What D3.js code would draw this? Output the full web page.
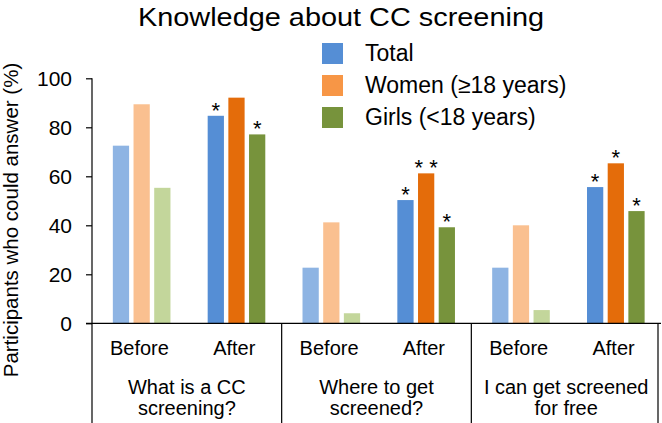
<!DOCTYPE html>
<html><head><meta charset="utf-8">
<script src="https://cdn.jsdelivr.net/npm/d3@7"></script>
<style>body{margin:0;background:#fff}svg{display:block;font-family:"Liberation Sans",Arial,sans-serif}</style>
</head><body>
<svg id="chart" width="662" height="423"></svg>
<script>
const title = "Knowledge about CC screening";
const yTitle = "Participants who could answer (%)";
const categories = ["What is a CC screening?", "Where to get screened?", "I can get screened for free"];
const categoryLines = [["What is a CC", "screening?"], ["Where to get", "screened?"], ["I can get screened", "for free"]];
const phases = ["Before", "After"];
const seriesNames = ["Total", "Women (\u226518 years)", "Girls (<18 years)"];
const yTicks = [0, 20, 40, 60, 80, 100];

const totalBefore = [72.5, 22.7, 22.7];
const totalAfter = [84.7, 50.3, 55.6];
const womenBefore = [89.4, 41.2, 40.0];
const womenAfter = [92.1, 61.2, 65.3];
const girlsBefore = [55.3, 4.1, 5.4];
const girlsAfter = [77.1, 39.2, 45.8];
const totalAfterSig = ["*", "*", "*"];
const womenAfterSig = ["", "* *", "*"];
const girlsAfterSig = ["*", "*", "*"];

const colorsBefore = ["#8EB4E3", "#FAC090", "#C3D69B"];
const colorsAfter = ["#558ED5", "#E46C0A", "#77933C"];
const legendColors = ["#558ED5", "#F79646", "#77933C"];

const valueTable = {
  Before: [totalBefore, womenBefore, girlsBefore],
  After: [totalAfter, womenAfter, girlsAfter]
};
const sigTable = {
  Before: [["", "", ""], ["", "", ""], ["", "", ""]],
  After: [totalAfterSig, womenAfterSig, girlsAfterSig]
};

const svg = d3.select("#chart");
const left = 92, right = 661, yTop = 78.3, yBottom = 323.3;

const x0 = d3.scaleBand().domain(categories).range([left, right]).padding(0);
const x1 = d3.scaleBand().domain(phases).range([0, x0.bandwidth()]).padding(0);
const x2 = d3.scaleBand().domain(seriesNames).range([0, x1.bandwidth()])
  .paddingInner(0.214).paddingOuter(0.9).align(0.56);
const y = d3.scaleLinear().domain([0, 100]).range([yBottom, yTop]);

// bars
const rows = [];
categories.forEach((c, ci) => phases.forEach(p => seriesNames.forEach((s, si) => {
  rows.push({c, p, s, si, v: valueTable[p][si][ci], sig: sigTable[p][si][ci]});
})));

const g = svg.append("g");
g.selectAll("rect.bar").data(rows).join("rect")
  .attr("class", "bar")
  .attr("x", d => x0(d.c) + x1(d.p) + x2(d.s))
  .attr("width", x2.bandwidth())
  .attr("y", d => y(d.v))
  .attr("height", d => y(0) - y(d.v))
  .attr("fill", d => d.p === "Before" ? colorsBefore[d.si] : colorsAfter[d.si]);

g.selectAll("text.sig").data(rows.filter(d => d.sig)).join("text")
  .attr("class", "sig")
  .attr("x", d => x0(d.c) + x1(d.p) + x2(d.s) + x2.bandwidth() / 2)
  .attr("y", d => y(d.v) + 2)
  .attr("text-anchor", "middle")
  .attr("font-size", 22)
  .attr("fill", "#000")
  .text(d => d.sig);

// y axis
const yAxis = d3.axisLeft(y).tickValues(yTicks).tickSize(6).tickPadding(14).tickFormat(d3.format("d"));
const ya = svg.append("g").attr("transform", `translate(${left},0)`).call(yAxis);
ya.select(".domain").remove();
ya.selectAll(".tick line").attr("stroke", "#000").attr("stroke-width", 1.2);
ya.selectAll(".tick text").attr("font-size", 21).attr("fill", "#000")
  .attr("font-family", "Liberation Sans, Arial, sans-serif");
svg.append("line").attr("x1", left).attr("x2", left).attr("y1", yTop).attr("y2", 423)
  .attr("stroke", "#000").attr("stroke-width", 1.2);
svg.append("line").attr("x1", left - 6).attr("x2", right).attr("y1", y(0)).attr("y2", y(0))
  .attr("stroke", "#000").attr("stroke-width", 1.2);

// category separators
categories.forEach((c, i) => {
  const xx = i === categories.length - 1 ? x0(c) + x0.bandwidth() - 3 : x0(c) + x0.bandwidth();
  svg.append("line").attr("x1", xx).attr("x2", xx).attr("y1", y(0)).attr("y2", 423)
    .attr("stroke", "#000").attr("stroke-width", 1.2);
});

// x labels
categories.forEach((c, ci) => {
  phases.forEach(p => {
    svg.append("text").attr("x", x0(c) + x1(p) + x1.bandwidth() / 2).attr("y", 355)
      .attr("text-anchor", "middle").attr("font-size", 20).attr("fill", "#000").text(p);
  });
  categoryLines[ci].forEach((line, li) => {
    svg.append("text").attr("x", x0(c) + x0.bandwidth() / 2).attr("y", 394 + li * 21)
      .attr("text-anchor", "middle").attr("font-size", 20).attr("fill", "#000").text(line);
  });
});

// y title
svg.append("text").attr("transform", `translate(18,220) rotate(-90)`)
  .attr("text-anchor", "middle").attr("font-size", 20.5).attr("fill", "#000").text(yTitle);

// title
svg.append("text").attr("x", 341).attr("y", 26).attr("text-anchor", "middle")
  .attr("font-size", 26).attr("textLength", 406).attr("lengthAdjust", "spacingAndGlyphs")
  .attr("fill", "#000").text(title);

// legend
const lg = svg.append("g").attr("transform", "translate(322,43)");
seriesNames.forEach((s, i) => {
  lg.append("rect").attr("x", 0).attr("y", i * 32).attr("width", 21).attr("height", 21).attr("fill", legendColors[i]);
  lg.append("text").attr("x", 43).attr("y", i * 32 + 18).attr("font-size", 23).attr("fill", "#000").text(s);
});
</script>
</body></html>
